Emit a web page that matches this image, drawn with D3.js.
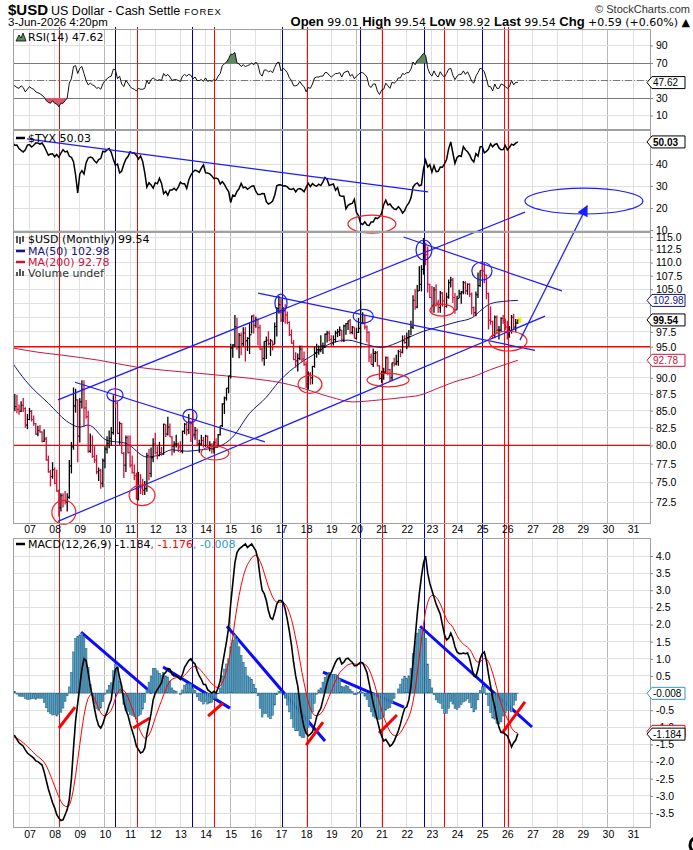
<!DOCTYPE html>
<html>
<head>
<meta charset="utf-8">
<title>$USD monthly</title>
<script src="https://cdn.jsdelivr.net/npm/d3@7"></script>
<style>
  body { margin: 0; background: #fff; }
  svg { display: block; }
  .lbl { font-family: 'Liberation Sans', Arial, sans-serif; font-size: 10.5px; }
  .tag { font-family: 'Liberation Sans', Arial, sans-serif; font-size: 10px; }
  .leg { font-family: 'DejaVu Sans', Verdana, sans-serif; font-size: 11px; }
  .hdr { font-family: 'Liberation Sans Narrow', 'Arial Narrow', 'Liberation Sans', Arial, sans-serif; }
  .val { font-family: 'DejaVu Sans', Verdana, sans-serif; }
</style>
</head>
<body>
<svg id="chart"></svg>
<script>
// one bar per month, the first one is May 2006
var startYear = 2006
var startMonth = 4

var closes = [
  85.3, 85.6, 85.2, 84.9, 85.8, 85.3, 82.9, 83.7,
  84.9, 83.7, 83.1, 81.6, 82.1, 81.9, 80.6, 80.9, 78.0, 76.4, 75.8, 76.7,
  74.9, 73.9, 71.8, 73.3, 72.7, 72.5, 73.1, 77.2, 79.8, 85.7, 86.6, 81.3,
  86.3, 88.2, 85.4, 84.1, 79.2, 80.0, 78.5, 78.0, 76.4, 76.6, 74.9, 77.9,
  79.5, 80.3, 81.0, 81.8, 86.4, 86.1, 81.7, 83.1, 78.9, 77.3, 81.1, 79.0,
  77.3, 76.3, 75.9, 72.9, 74.6, 74.3, 74.0, 74.2, 78.6, 76.2, 78.3, 80.2,
  79.0, 78.6, 79.0, 78.8, 83.0, 81.6, 82.6, 81.2, 79.9, 80.2, 80.2, 79.8,
  79.2, 82.0, 83.0, 82.2, 83.3, 83.1, 81.5, 82.1, 80.2, 80.2, 80.7, 80.0,
  81.3, 79.7, 80.1, 79.5, 80.4, 79.8, 81.5, 82.8, 86.0, 86.9, 88.4, 90.3,
  94.8, 95.3, 98.4, 95.0, 96.9, 95.5, 97.3, 96.0, 96.4, 97.0, 100.2, 98.6,
  99.6, 98.2, 94.6, 93.1, 95.9, 96.1, 95.5, 96.0, 95.4, 98.4, 101.5, 102.2,
  99.5, 101.1, 100.4, 99.1, 97.0, 95.6, 92.9, 92.7, 93.1, 94.6, 93.0, 92.1,
  89.1, 90.6, 90.0, 91.8, 94.0, 94.5, 94.5, 95.1, 95.1, 97.1, 97.3, 96.2,
  95.6, 96.2, 97.3, 97.5, 97.8, 96.1, 98.5, 98.9, 99.4, 97.4, 98.3, 96.4,
  97.4, 98.1, 99.0, 99.0, 98.3, 97.4, 93.3, 92.1, 93.9, 94.0, 91.9, 89.9,
  90.6, 90.9, 93.2, 91.3, 90.0, 92.4, 92.2, 92.6, 94.2, 94.1, 96.0, 95.7,
  96.5, 96.7, 98.3, 103.0, 101.8, 104.7, 105.9, 108.7, 112.1, 111.5, 105.9, 103.5,
  102.1, 104.9, 102.5, 101.7, 104.3, 102.9, 101.9, 103.6, 106.2, 106.7, 103.5, 101.3,
  103.3, 104.2, 104.5, 106.2, 104.7, 105.9, 104.1, 101.7, 100.8, 104.0, 105.7, 108.5,
  108.4, 107.6, 104.2, 99.5, 99.3, 96.9, 100.0, 97.8, 97.8, 99.8, 99.4, 98.3,
  97.0, 97.6, 100.0, 98.3, 99.0, 99.54
]

var highs = [
  86.9, 87.5, 87.4, 85.9, 86.4, 86.9, 85.5, 84.5,
  85.4, 85.1, 84.3, 83.2, 82.8, 82.9, 82.0, 82.3, 81.2, 78.6, 76.7, 77.7,
  77.0, 76.7, 74.1, 73.6, 73.6, 73.9, 73.6, 78.0, 80.5, 88.5, 88.3, 86.7,
  86.9, 89.6, 89.6, 86.6, 85.0, 81.7, 81.4, 79.9, 78.7, 77.0, 76.8, 78.2,
  79.9, 81.3, 82.1, 82.6, 87.3, 88.7, 86.3, 83.4, 83.2, 79.1, 81.4, 81.4,
  81.4, 78.6, 77.4, 76.3, 76.4, 76.1, 75.5, 75.2, 79.0, 79.5, 79.7, 81.0,
  81.8, 79.9, 80.5, 79.8, 83.1, 83.0, 84.1, 83.1, 81.3, 80.6, 81.5, 80.4,
  80.6, 82.1, 83.2, 83.3, 84.5, 83.5, 84.8, 82.6, 82.4, 80.8, 81.5, 81.2,
  81.5, 81.4, 80.6, 80.3, 80.6, 81.0, 81.6, 82.8, 86.1, 87.1, 88.4, 90.3,
  95.5, 95.4, 100.4, 99.9, 97.3, 97.4, 98.3, 98.3, 96.6, 99.0, 100.3, 100.5,
  100.1, 99.8, 98.7, 94.9, 95.9, 96.7, 97.6, 96.3, 96.0, 99.1, 101.8, 103.8,
  103.3, 101.8, 102.3, 101.0, 99.3, 97.9, 96.1, 94.1, 93.9, 95.2, 95.2, 94.2,
  92.6, 91.0, 90.9, 91.9, 95.0, 95.5, 95.2, 96.9, 95.7, 97.2, 97.7, 97.7,
  96.9, 96.9, 97.7, 98.0, 98.4, 97.8, 98.7, 99.0, 99.4, 99.7, 98.5, 98.3,
  98.2, 99.9, 103.0, 100.9, 100.4, 98.6, 97.6, 93.9, 94.7, 94.3, 94.3, 92.0,
  91.1, 91.6, 93.4, 93.4, 91.4, 92.4, 93.2, 93.7, 94.5, 94.6, 96.9, 96.9,
  97.4, 97.8, 99.4, 103.9, 105.0, 105.8, 109.3, 109.5, 114.8, 113.9, 113.1, 106.0,
  105.6, 105.4, 105.9, 103.1, 104.7, 104.5, 103.6, 104.4, 106.8, 107.3, 107.1, 104.3,
  103.8, 104.9, 104.7, 106.5, 106.5, 106.1, 106.1, 104.4, 101.9, 104.6, 108.1, 108.5,
  110.2, 109.9, 107.7, 104.4, 101.9, 99.4, 100.3, 100.3, 98.5, 100.0, 100.4, 99.8,
  99.4, 98.5, 100.4, 100.6, 99.7, 99.6
]

var lows = [
  84.1, 84.9, 84.6, 84.4, 84.8, 84.8, 82.5, 82.3,
  83.6, 83.4, 82.8, 81.5, 81.3, 81.8, 80.4, 80.5, 77.9, 76.3, 74.5, 75.5,
  74.8, 73.8, 70.7, 71.3, 71.8, 72.2, 71.3, 72.9, 76.2, 79.4, 84.7, 77.7,
  80.4, 85.3, 82.6, 83.8, 79.0, 79.0, 78.3, 77.6, 76.1, 75.2, 74.2, 74.4,
  76.9, 78.9, 79.6, 80.0, 81.5, 85.4, 81.6, 80.1, 78.9, 75.6, 76.4, 78.9,
  77.0, 76.2, 75.3, 72.8, 72.7, 73.5, 73.4, 73.4, 73.8, 75.3, 75.7, 77.7,
  78.8, 78.1, 78.5, 78.6, 78.7, 81.2, 81.4, 81.2, 78.6, 79.0, 79.7, 79.1,
  79.0, 78.9, 81.6, 81.4, 81.6, 80.5, 81.1, 80.8, 79.9, 79.0, 80.0, 79.7,
  79.8, 79.7, 79.2, 78.9, 78.9, 79.7, 79.8, 81.4, 82.6, 84.5, 86.5, 87.6,
  89.9, 93.2, 94.9, 94.5, 93.1, 93.6, 95.1, 92.6, 94.3, 93.8, 97.2, 97.2,
  98.2, 95.2, 94.5, 92.6, 91.9, 93.0, 95.2, 93.5, 94.4, 95.4, 96.7, 100.6,
  99.2, 99.2, 98.9, 98.8, 96.8, 95.5, 92.8, 91.6, 91.0, 92.8, 92.5, 91.9,
  88.4, 88.2, 88.9, 89.0, 91.6, 93.2, 93.7, 94.1, 93.8, 94.8, 95.7, 95.9,
  95.0, 95.2, 95.7, 96.6, 96.8, 95.8, 95.8, 97.0, 97.8, 97.1, 97.1, 96.4,
  96.2, 97.3, 94.6, 98.8, 97.9, 95.7, 92.5, 92.1, 91.7, 92.5, 91.8, 89.7,
  89.2, 89.7, 90.6, 90.4, 89.5, 89.5, 91.8, 92.0, 91.9, 93.3, 93.9, 95.5,
  94.6, 95.1, 96.9, 98.0, 101.3, 101.6, 104.7, 104.6, 107.7, 109.5, 104.4, 103.4,
  100.8, 100.8, 101.9, 100.8, 100.8, 101.9, 99.6, 101.7, 103.3, 105.3, 102.5, 100.6,
  101.3, 103.4, 102.4, 104.1, 104.1, 104.0, 103.6, 100.5, 100.2, 100.2, 103.4, 105.4,
  107.2, 106.1, 103.2, 97.9, 98.7, 96.4, 96.4, 97.1, 96.2, 97.5, 98.9, 97.8,
  96.2, 96.5, 97.2, 97.8, 97.5, 98.9
]

var rsiValues = [
  43, 44, 42, 41, 44, 42, 37, 40,
  43, 41, 40, 37, 36, 35, 33, 31, 27, 25, 24, 27,
  24, 23, 20, 24, 24, 27, 30, 47, 52, 66, 67, 58,
  64, 66, 58, 50, 45, 47, 45, 44, 41, 42, 40, 46,
  50, 52, 54, 55, 63, 62, 52, 55, 46, 43, 50, 47,
  43, 41, 40, 38, 41, 40, 40, 41, 50, 46, 51, 53,
  51, 50, 51, 50, 58, 55, 57, 54, 50, 51, 51, 50,
  49, 55, 57, 55, 57, 56, 52, 54, 50, 50, 51, 49,
  53, 49, 50, 49, 51, 50, 55, 58, 67, 69, 71, 75,
  80, 80, 82, 70, 69, 66, 68, 66, 67, 68, 70, 68,
  71, 68, 58, 55, 62, 62, 60, 61, 59, 65, 70, 71,
  61, 64, 62, 59, 53, 50, 44, 44, 45, 49, 45, 43,
  37, 42, 41, 46, 53, 54, 54, 55, 55, 59, 59, 56,
  54, 56, 58, 58, 59, 54, 59, 60, 61, 55, 57, 52,
  55, 57, 59, 59, 57, 54, 44, 42, 46, 46, 38, 34,
  39, 40, 47, 44, 41, 48, 47, 49, 53, 53, 58, 57,
  59, 59, 63, 71, 68, 73, 75, 78, 81, 79, 64, 58,
  55, 61, 56, 54, 60, 56, 54, 58, 63, 64, 56, 51,
  55, 57, 57, 61, 57, 60, 55, 49, 47, 55, 59, 64,
  63, 60, 52, 43, 43, 38, 46, 41, 41, 46, 45, 43,
  41, 43, 50, 45, 48, 47.62
]

var tyxValues = [
  49.5, 48.5, 48.6, 47.0, 46.2, 45.5, 46.5, 48.6,
  48.8, 47.7, 48.5, 49.5, 49.5, 49.0, 49.5, 48.0, 46.0, 44.0, 44.5, 44.6,
  43.3, 44.3, 43.0, 45.0, 46.5, 45.5, 45.8, 43.5, 43.0, 41.0, 35.0, 26.8,
  35.5, 37.0, 35.5, 40.5, 42.7, 43.2, 42.8, 41.5, 40.5, 42.0, 42.5, 45.8,
  45.5, 46.4, 47.0, 45.3, 42.1, 39.5, 40.0, 36.0, 36.8, 39.9, 42.2, 43.4,
  45.5, 45.0, 45.0, 43.9, 42.2, 43.7, 41.2, 36.0, 29.5, 31.5, 30.5, 29.0,
  31.5, 31.0, 33.5, 31.2, 26.5, 27.6, 25.8, 28.2, 28.2, 29.0, 28.0, 29.5,
  31.7, 31.0, 31.0, 28.9, 32.7, 35.0, 36.4, 37.2, 36.9, 36.2, 38.1, 39.6,
  36.0, 35.9, 35.5, 34.6, 33.3, 33.6, 33.2, 30.9, 32.0, 30.7, 28.9, 27.5,
  22.5, 25.9, 25.4, 27.5, 28.8, 31.2, 29.2, 29.5, 28.5, 29.2, 29.9, 30.1,
  27.5, 26.1, 26.1, 26.6, 26.5, 22.9, 21.8, 22.3, 23.2, 25.8, 30.1, 30.6,
  30.5, 30.0, 30.1, 29.6, 28.6, 28.4, 28.9, 27.3, 28.6, 28.8, 28.3, 27.4,
  29.4, 31.2, 29.7, 31.1, 30.3, 29.9, 30.8, 30.2, 31.9, 33.9, 33.0, 30.2,
  30.6, 30.9, 28.1, 29.3, 25.7, 25.3, 25.3, 19.6, 21.2, 21.8, 22.1, 23.9,
  18.0, 16.5, 13.0, 12.5, 13.7, 12.3, 12.0, 13.6, 13.6, 15.5, 15.2, 16.0,
  17.5, 21.5, 23.6, 21.4, 21.8, 20.5, 19.5, 19.3, 20.6, 19.5, 17.7, 18.8,
  21.0, 22.3, 24.5, 29.5, 30.8, 31.4, 30.1, 30.5, 37.8, 41.8, 38.6, 39.7,
  36.3, 39.3, 36.5, 36.7, 38.6, 38.5, 40.1, 42.0, 47.0, 50.0, 45.0, 40.3,
  43.0, 43.8, 43.4, 47.9, 46.5, 45.6, 44.1, 42.0, 40.9, 44.7, 43.6, 47.8,
  47.9, 45.1, 45.7, 46.8, 49.2, 47.8, 48.9, 49.2, 47.3, 46.5, 46.6, 48.4,
  46.4, 47.5, 49.0, 48.6, 49.5, 50.03
]

var macdValues = [
  -1.22, -1.25, -1.35, -1.45, -1.5, -1.55, -1.66, -1.75,
  -1.8, -1.85, -1.9, -1.98, -2.0, -2.05, -2.1, -2.3, -2.55, -2.8, -3.0, -3.2,
  -3.35, -3.55, -3.65, -3.72, -3.7, -3.55, -3.4, -3.1, -2.5, -1.6, -0.8, -0.3,
  0.2, 0.7, 1.0, 0.95, 0.6, 0.2, -0.1, -0.45, -0.75, -0.95, -1.02, -0.9,
  -0.7, -0.55, -0.35, -0.2, 0.3, 0.7, 0.75, 0.45, 0.2, -0.25, -0.5, -0.65,
  -0.9, -1.1, -1.3, -1.55, -1.65, -1.75, -1.72, -1.6, -1.2, -0.9, -0.6, -0.2,
  0.0, 0.1, 0.2, 0.3, 0.55, 0.6, 0.72, 0.7, 0.55, 0.5, 0.5, 0.45,
  0.4, 0.55, 0.75, 0.85, 0.95, 1.0, 0.9, 0.85, 0.65, 0.5, 0.4, 0.25,
  0.25, 0.1, 0.05, 0.0, 0.05, 0.0, 0.15, 0.35, 0.8, 1.15, 1.5, 1.9,
  2.6, 3.2, 3.8, 4.1, 4.2, 4.25, 4.3, 4.35, 4.25, 4.3, 4.35, 4.25,
  4.15, 3.9, 3.4, 3.0, 2.9, 2.7, 2.4, 2.2, 2.15, 2.35, 2.6, 2.7,
  2.7, 2.65, 2.45, 2.15, 1.8, 1.4, 0.9, 0.5, 0.2, -0.3, -0.7, -1.0,
  -1.17, -1.25, -1.2, -1.13, -0.95, -0.7, -0.55, -0.45, -0.2, 0.05, 0.3, 0.5,
  0.6, 0.75, 0.9, 1.0, 1.02, 0.85, 0.9, 1.0, 1.02, 0.95, 0.9, 0.8,
  0.8, 0.85, 0.9, 0.88, 0.75, 0.6, 0.3, 0.0, -0.3, -0.55, -0.8, -1.05,
  -1.25, -1.4, -1.35, -1.45, -1.55, -1.5, -1.4, -1.25, -1.1, -0.9, -0.65, -0.45,
  -0.4, -0.2, 0.2, 0.9, 1.6, 2.3, 2.9, 3.4, 3.8, 4.0, 3.5, 3.2,
  3.0, 2.8, 2.6, 2.45, 2.3, 2.0, 1.7, 1.55, 1.6, 1.75, 1.6, 1.35,
  1.2, 1.15, 1.15, 1.17, 1.15, 1.17, 1.0, 0.75, 0.5, 0.47, 0.7, 1.0,
  1.15, 1.2, 0.95, 0.55, 0.2, -0.15, -0.4, -0.75, -1.0, -1.15, -1.15, -1.2,
  -1.25, -1.4, -1.57, -1.45, -1.37, -1.184
]

var signalValues = [
  -1.28, -1.3, -1.32, -1.36, -1.4, -1.45, -1.5, -1.56,
  -1.62, -1.68, -1.74, -1.8, -1.85, -1.9, -1.95, -2.02, -2.12, -2.25, -2.4, -2.56,
  -2.72, -2.88, -3.03, -3.16, -3.26, -3.3, -3.32, -3.28, -3.1, -2.8, -2.4, -1.95,
  -1.5, -1.05, -0.65, -0.35, -0.15, -0.05, -0.05, -0.15, -0.3, -0.45, -0.58, -0.65,
  -0.66, -0.64, -0.58, -0.5, -0.35, -0.15, 0.0, 0.1, 0.12, 0.08, 0.0, -0.12,
  -0.28, -0.45, -0.62, -0.8, -0.98, -1.13, -1.25, -1.32, -1.3, -1.22, -1.1, -0.92,
  -0.72, -0.55, -0.38, -0.22, -0.05, 0.1, 0.25, 0.35, 0.4, 0.43, 0.45, 0.45,
  0.44, 0.46, 0.52, 0.58, 0.66, 0.73, 0.76, 0.78, 0.76, 0.71, 0.65, 0.57,
  0.5, 0.42, 0.34, 0.27, 0.22, 0.17, 0.17, 0.2, 0.3, 0.45, 0.65, 0.9,
  1.25, 1.65, 2.1, 2.5, 2.85, 3.15, 3.4, 3.6, 3.75, 3.85, 3.95, 4.0,
  4.02, 3.98, 3.85, 3.7, 3.5, 3.3, 3.1, 2.95, 2.8, 2.7, 2.65, 2.65,
  2.65, 2.65, 2.6, 2.5, 2.35, 2.15, 1.9, 1.6, 1.3, 0.95, 0.6, 0.3,
  0.0, -0.25, -0.45, -0.58, -0.65, -0.66, -0.64, -0.6, -0.52, -0.4, -0.25, -0.1,
  0.05, 0.2, 0.35, 0.48, 0.6, 0.66, 0.72, 0.78, 0.83, 0.85, 0.86, 0.85,
  0.84, 0.84, 0.85, 0.86, 0.84, 0.79, 0.7, 0.55, 0.38, 0.18, -0.05, -0.28,
  -0.5, -0.7, -0.85, -1.0, -1.12, -1.2, -1.24, -1.25, -1.22, -1.16, -1.06, -0.94,
  -0.83, -0.7, -0.52, -0.25, 0.1, 0.55, 1.05, 1.55, 2.0, 2.4, 2.65, 2.8,
  2.85, 2.85, 2.8, 2.72, 2.6, 2.45, 2.3, 2.15, 2.05, 2.0, 1.92, 1.8,
  1.68, 1.57, 1.49, 1.43, 1.38, 1.34, 1.28, 1.18, 1.05, 0.94, 0.9, 0.92,
  0.97, 1.01, 1.0, 0.92, 0.77, 0.58, 0.36, 0.13, -0.1, -0.31, -0.48, -0.62,
  -0.75, -0.88, -1.02, -1.1, -1.15, -1.176
]

// moving averages at a few months (index from May 2006)
var ma50Months = [0, 6, 17, 27, 32, 36, 45, 54, 64, 70, 76, 83, 90, 98, 105, 113, 121, 127, 137, 145, 152, 160, 168, 176, 183, 188, 196, 203, 212, 219, 224, 228, 234, 241]
var ma50Values = [92.3, 89.6, 86.1, 83.2, 82.6, 82.9, 80.7, 80.3, 78.4, 78.7, 79.4, 79.2, 79.4, 79.8, 81.2, 84.6, 87.0, 89.4, 92.3, 94.0, 95.6, 96.1, 95.4, 94.9, 95.6, 96.4, 97.6, 98.3, 99.2, 99.9, 101.4, 102.4, 102.8, 102.98]
var ma200Months = [0, 12, 24, 41, 59, 72, 89, 105, 121, 127, 136, 152, 162, 175, 187, 194, 203, 213, 219, 228, 241]
var ma200Values = [94.8, 94.1, 93.6, 92.8, 91.7, 91.2, 90.7, 90.2, 89.6, 89.3, 88.6, 87.0, 86.3, 86.6, 87.0, 87.3, 88.4, 89.6, 90.1, 91.3, 92.78]

var yearTicks = [2007, 2008, 2009, 2010, 2011, 2012, 2013, 2014, 2015, 2016, 2017, 2018, 2019, 2020, 2021, 2022, 2023, 2024, 2025, 2026, 2027, 2028, 2029, 2030, 2031]
var yearLabels = ['07', '08', '09', '10', '11', '12', '13', '14', '15', '16', '17', '18', '19', '20', '21', '22', '23', '24', '25', '26', '27', '28', '29', '30', '31']
var priceGrid = [72.5, 75, 77.5, 80, 82.5, 85, 87.5, 90, 92.5, 95, 97.5, 100, 102.5, 105, 107.5, 110, 112.5, 115]
var priceLabels = [72.5, 75, 77.5, 80, 82.5, 85, 87.5, 90, 95, 97.5, 105, 107.5, 110, 112.5, 115]
var rsiGridTicks = [10, 30, 50, 70, 90]
var rsiLabels = [10, 30, 70, 90]
var tyxGridTicks = [10, 20, 30, 40, 50]
var tyxLabels = [10, 20, 30, 40]
var macdGrid = [-3.5, -3, -2.5, -2, -1.5, -1, -0.5, 0, 0.5, 1, 1.5, 2, 2.5, 3, 3.5, 4]
var macdLabels = [-3.5, -3, -2.5, -2, -1.5, -1, -0.5, 0.5, 1, 1.5, 2, 2.5, 3, 3.5, 4]

// hand drawn marks (dates as fractional years)
var redCycles = [2008.21, 2011.31, 2014.34, 2018.07, 2021.04, 2023.52, 2025.87, 2026.03]
var blueCycles = [2010.40, 2013.50, 2017.04, 2020.18, 2022.69, 2025.03]
var priceLevels = [95, 80]
var priceTrendLines = [
  [[2008.13, 70.1], [2027.50, 100.2]],
  [[2008.13, 86.6], [2026.70, 120.1]],
  [[2008.81, 89.3], [2016.36, 80.5]],
  [[2016.09, 104.3], [2027.10, 94.4]],
  [[2021.87, 115.0], [2028.17, 104.7]]
]
var targetArrow = [[2026.50, 96.1], [2029.17, 121.4]]
var targetZone = [2026.70, 2031.39, 119.7, 125.2]
var priceLowRings = [
  [2007.89, 2008.84, 69.75, 72.7],
  [2010.96, 2011.99, 72.04, 74.7],
  [2013.82, 2014.93, 78.0, 79.9],
  [2017.68, 2018.63, 87.6, 90.4],
  [2020.42, 2022.09, 88.6, 90.7],
  [2022.92, 2023.88, 100.2, 102.3],
  [2025.27, 2026.78, 94.3, 97.6]
]
var priceHighRings = [
  [2010.08, 2010.72, 86.4, 88.3],
  [2013.10, 2013.66, 83.2, 85.2],
  [2016.76, 2017.24, 100.9, 104.1],
  [2019.87, 2020.67, 99.0, 101.4],
  [2022.37, 2023.00, 110.5, 114.4],
  [2024.59, 2025.39, 106.7, 110.1]
]
var tyxTrendLine = [[2006.90, 51.4], [2022.85, 27.3]]
var tyxLowRing = [2019.66, 2021.57, 8.6, 16.8]
var macdBlueLines = [
  [[2009.05, 1.78], [2011.87, 0.0]],
  [[2012.31, 0.76], [2014.97, -0.44]],
  [[2014.85, 1.95], [2018.75, -1.40]],
  [[2018.67, 0.61], [2021.89, -0.41]],
  [[2022.53, 1.95], [2026.98, -0.99]]
]
var macdRedSlashes = [
  [[2008.17, -1.02], [2008.81, -0.41]],
  [[2011.12, -1.02], [2011.79, -0.73]],
  [[2014.10, -0.67], [2014.69, -0.29]],
  [[2018.00, -1.52], [2018.67, -0.85]],
  [[2020.90, -1.17], [2021.61, -0.64]],
  [[2025.79, -1.17], [2026.70, -0.26]]
]

;(function (d3) {
  var w = 693
  var h = 850
  var left = 13
  var right = 650
  var rsiBox = [29, 129]
  var tyxBox = [130, 231]
  var priceBox = [232, 523]
  var macdBox = [538, 827]

  var red = '#ff0000'
  var blue = '#1a1aff'
  var barRed = '#d0103a'
  var navy = '#16167e'
  var crimson = '#cc1440'
  var teal = '#3399cc'

  var svg = d3.select('#chart').attr('width', w).attr('height', h)
  svg.append('rect').attr('width', w).attr('height', h).attr('fill', '#fff')
  var defs = svg.append('defs')

  var x = d3.scaleLinear().domain([2006.344, 2031.672]).range([left, right])
  var yRsi = d3.scaleLinear().domain([30, 70]).range([98, 63])
  var yTyx = d3.scaleLinear().domain([10, 40]).range([230, 164])
  var yPrice = d3.scaleLog().domain([72.5, 115]).range([502, 237])
  var yMacd = d3.scaleLinear().domain([-3.5, 4]).range([813, 556])

  var t = i => startYear + (startMonth + i) / 12

  var months = closes.map((c, i) => ({
    t: t(i),
    c: c,
    hi: highs[i],
    lo: lows[i],
    prev: i ? closes[i - 1] : null,
    rsi: rsiValues[i],
    tyx: tyxValues[i],
    macd: macdValues[i],
    signal: signalValues[i]
  }))

  function panel (name, box, y, ticks) {
    var g = svg.append('g')
    g.append('rect').attr('x', left).attr('y', box[0])
      .attr('width', right - left).attr('height', box[1] - box[0]).attr('fill', '#fff')
    g.selectAll('line.v').data(yearTicks).enter().append('line')
      .attr('x1', d => x(d)).attr('x2', d => x(d))
      .attr('y1', box[0]).attr('y2', box[1])
      .attr('stroke', d => d % 5 === 0 ? '#b8b8b8' : '#e0e0e0')
      .attr('shape-rendering', 'crispEdges')
    g.selectAll('line.h').data(ticks).enter().append('line')
      .attr('x1', left).attr('x2', right)
      .attr('y1', d => y(d)).attr('y2', d => y(d))
      .attr('stroke', '#e0e0e0')
      .attr('shape-rendering', 'crispEdges')
    defs.append('clipPath').attr('id', 'clip-' + name).append('rect')
      .attr('x', left).attr('y', box[0]).attr('width', right - left).attr('height', box[1] - box[0])
    return g
  }

  var rsiGrid = panel('rsi', rsiBox, yRsi, rsiGridTicks)
  panel('tyx', tyxBox, yTyx, tyxGridTicks)
  panel('price', priceBox, yPrice, priceGrid)
  panel('macd', macdBox, yMacd, macdGrid)

  // RSI reference lines
  rsiGrid.selectAll('line.ref').data([30, 70]).enter().append('line')
    .attr('x1', left).attr('x2', right).attr('y1', d => yRsi(d)).attr('y2', d => yRsi(d))
    .attr('stroke', '#7a7a7a').attr('shape-rendering', 'crispEdges')
  rsiGrid.append('line')
    .attr('x1', left).attr('x2', right).attr('y1', yRsi(50)).attr('y2', yRsi(50))
    .attr('stroke', '#7a7a7a').attr('stroke-dasharray', '7,2,1,2').attr('shape-rendering', 'crispEdges')

  // cycle lines through every panel
  var cycles = svg.append('g').attr('shape-rendering', 'crispEdges')
  cycles.selectAll('line.r').data(redCycles).enter().append('line')
    .attr('x1', d => x(d)).attr('x2', d => x(d)).attr('y1', 27).attr('y2', macdBox[1])
    .attr('stroke', red).attr('stroke-width', 1)
  cycles.selectAll('line.b').data(blueCycles).enter().append('line')
    .attr('x1', d => x(d)).attr('x2', d => x(d)).attr('y1', 27).attr('y2', macdBox[1])
    .attr('stroke', '#0000a8').attr('stroke-width', 1)

  // RSI
  var rsiG = svg.append('g').attr('clip-path', 'url(#clip-rsi)')
  rsiG.append('path').datum(months)
    .attr('d', d3.area().x(d => x(d.t)).y0(yRsi(70)).y1(d => yRsi(Math.max(d.rsi, 70))))
    .attr('fill', '#5d8a5d')
  rsiG.append('path').datum(months)
    .attr('d', d3.area().x(d => x(d.t)).y0(yRsi(30)).y1(d => yRsi(Math.min(d.rsi, 30))))
    .attr('fill', '#d9586c')
  rsiG.append('path').datum(months)
    .attr('d', d3.line().x(d => x(d.t)).y(d => yRsi(d.rsi)))
    .attr('fill', 'none').attr('stroke', '#111').attr('stroke-width', 1)

  // $TYX
  var tyxG = svg.append('g').attr('clip-path', 'url(#clip-tyx)')
  tyxG.append('path').datum(months)
    .attr('d', d3.line().x(d => x(d.t)).y(d => yTyx(d.tyx)))
    .attr('fill', 'none').attr('stroke', '#000').attr('stroke-width', 1.5)

  // price panel
  var priceG = svg.append('g').attr('clip-path', 'url(#clip-price)')
  priceG.selectAll('line.lvl').data(priceLevels).enter().append('line')
    .attr('x1', left).attr('x2', right).attr('y1', d => yPrice(d)).attr('y2', d => yPrice(d))
    .attr('stroke', red).attr('stroke-width', 1.3)

  var maLine = d3.line().curve(d3.curveMonotoneX).x(d => x(t(d[0]))).y(d => yPrice(d[1]))
  priceG.append('path').datum(ma200Months.map((m, i) => [m, ma200Values[i]]))
    .attr('d', maLine).attr('fill', 'none').attr('stroke', crimson).attr('stroke-width', 1)
  priceG.append('path').datum(ma50Months.map((m, i) => [m, ma50Values[i]]))
    .attr('d', maLine).attr('fill', 'none').attr('stroke', navy).attr('stroke-width', 1)

  var bars = priceG.selectAll('g.bar').data(months).enter().append('g')
    .attr('stroke', d => d.prev === null || d.c >= d.prev ? '#000' : barRed)
  bars.append('line')
    .attr('x1', d => x(d.t)).attr('x2', d => x(d.t))
    .attr('y1', d => yPrice(d.hi)).attr('y2', d => yPrice(d.lo))
    .attr('stroke-width', 1.3)
  bars.filter(d => d.prev !== null).append('line')
    .attr('x1', d => x(d.t) - 1.3).attr('x2', d => x(d.t))
    .attr('y1', d => yPrice(d.prev)).attr('y2', d => yPrice(d.prev))
  bars.append('line')
    .attr('x1', d => x(d.t)).attr('x2', d => x(d.t) + 1.3)
    .attr('y1', d => yPrice(d.c)).attr('y2', d => yPrice(d.c))

  var last = months[months.length - 1]
  svg.append('rect').attr('x', x(last.t) + 0.6).attr('y', yPrice(last.c) - 3)
    .attr('width', 3).attr('height', 6).attr('fill', '#ffee00')

  // hand drawn trend lines and rings
  var notes = svg.append('g').attr('fill', 'none')
  notes.selectAll('line.tl').data(priceTrendLines).enter().append('line')
    .attr('x1', d => x(d[0][0])).attr('y1', d => yPrice(d[0][1]))
    .attr('x2', d => x(d[1][0])).attr('y2', d => yPrice(d[1][1]))
    .attr('stroke', blue).attr('stroke-width', 1.2)

  function ring (g, r, y, color) {
    g.append('ellipse')
      .attr('cx', (x(r[0]) + x(r[1])) / 2).attr('cy', (y(r[2]) + y(r[3])) / 2)
      .attr('rx', Math.abs(x(r[1]) - x(r[0])) / 2).attr('ry', Math.abs(y(r[3]) - y(r[2])) / 2)
      .attr('stroke', color).attr('stroke-width', 1.2)
  }
  priceLowRings.forEach(r => ring(notes, r, yPrice, '#ee2222'))
  priceHighRings.forEach(r => ring(notes, r, yPrice, blue))
  ring(notes, targetZone, yPrice, blue)
  ring(notes, tyxLowRing, yTyx, '#ee2222')

  defs.append('marker').attr('id', 'arrow').attr('viewBox', '0 0 10 10')
    .attr('refX', 9).attr('refY', 5).attr('markerWidth', 13).attr('markerHeight', 11)
    .attr('markerUnits', 'userSpaceOnUse').attr('orient', 'auto')
    .append('path').attr('d', 'M0,0L10,5L0,10Z').attr('fill', blue)
  notes.append('line')
    .attr('x1', x(targetArrow[0][0])).attr('y1', yPrice(targetArrow[0][1]))
    .attr('x2', x(targetArrow[1][0])).attr('y2', yPrice(targetArrow[1][1]))
    .attr('stroke', blue).attr('stroke-width', 1.2).attr('marker-end', 'url(#arrow)')

  notes.append('line')
    .attr('x1', x(tyxTrendLine[0][0])).attr('y1', yTyx(tyxTrendLine[0][1]))
    .attr('x2', x(tyxTrendLine[1][0])).attr('y2', yTyx(tyxTrendLine[1][1]))
    .attr('stroke', blue).attr('stroke-width', 1.2)

  // MACD
  var macdG = svg.append('g').attr('clip-path', 'url(#clip-macd)')
  macdG.selectAll('rect.hist').data(months).enter().append('rect')
    .attr('x', d => x(d.t) - 0.9).attr('width', 1.8)
    .attr('y', d => Math.min(yMacd(0), yMacd(d.macd - d.signal)))
    .attr('height', d => Math.abs(yMacd(d.macd - d.signal) - yMacd(0)))
    .attr('fill', '#5aa2c8').attr('stroke', '#1f5c7a').attr('stroke-width', 0.5)
  macdG.append('path').datum(months)
    .attr('d', d3.line().x(d => x(d.t)).y(d => yMacd(d.signal)))
    .attr('fill', 'none').attr('stroke', red).attr('stroke-width', 1)
  macdG.append('path').datum(months)
    .attr('d', d3.line().x(d => x(d.t)).y(d => yMacd(d.macd)))
    .attr('fill', 'none').attr('stroke', '#000').attr('stroke-width', 1.6)

  notes.selectAll('line.mb').data(macdBlueLines).enter().append('line')
    .attr('x1', d => x(d[0][0])).attr('y1', d => yMacd(d[0][1]))
    .attr('x2', d => x(d[1][0])).attr('y2', d => yMacd(d[1][1]))
    .attr('stroke', '#0a0aff').attr('stroke-width', 3)
  notes.selectAll('line.mr').data(macdRedSlashes).enter().append('line')
    .attr('x1', d => x(d[0][0])).attr('y1', d => yMacd(d[0][1]))
    .attr('x2', d => x(d[1][0])).attr('y2', d => yMacd(d[1][1]))
    .attr('stroke', red).attr('stroke-width', 3)

  // panel borders
  ;[rsiBox, tyxBox, priceBox, macdBox].forEach(b => {
    svg.append('rect').attr('x', left).attr('y', b[0])
      .attr('width', right - left).attr('height', b[1] - b[0])
      .attr('fill', 'none').attr('stroke', '#a0a0a0').attr('shape-rendering', 'crispEdges')
  })

  // axes
  function rightAxis (y, ticks, fmt) {
    var g = svg.append('g').attr('class', 'lbl').attr('transform', `translate(${right},0)`)
      .call(d3.axisRight(y).tickValues(ticks).tickFormat(fmt).tickSize(3).tickPadding(3))
    g.select('.domain').remove()
    g.selectAll('line').attr('stroke', '#888')
    g.selectAll('text').attr('font-family', null).attr('font-size', null).attr('fill', '#000')
    return g
  }
  rightAxis(yRsi, rsiLabels, d => d)
  rightAxis(yTyx, tyxLabels, d => d)
  rightAxis(yPrice, priceLabels, d => d.toFixed(1))
  rightAxis(yMacd, macdLabels, d => d.toFixed(1))

  function yearAxis (yPos, pad) {
    var g = svg.append('g').attr('class', 'lbl').attr('transform', `translate(0,${yPos})`)
      .call(d3.axisBottom(x).tickValues(yearTicks).tickFormat((d, i) => yearLabels[i]).tickSize(0).tickPadding(pad))
    g.select('.domain').remove()
    g.selectAll('text').attr('font-family', null).attr('font-size', null).attr('fill', '#000')
  }
  yearAxis(priceBox[1], 3)
  yearAxis(macdBox[1], 4)

  // value tags on the right edge
  function tag (yv, label, color, bold, dy) {
    var yy = yv + (dy || 0)
    var g = svg.append('g')
    g.append('path')
      .attr('d', `M${right - 3},${yy}L${right + 2},${yy - 6}L${right + 35},${yy - 6}L${right + 35},${yy + 6}L${right + 2},${yy + 6}Z`)
      .attr('fill', '#fff').attr('stroke', color).attr('stroke-width', 1)
    g.append('text').attr('class', 'tag').attr('x', right + 3).attr('y', yy + 3.6)
      .attr('fill', color === teal ? '#000' : color).attr('font-weight', bold ? 'bold' : null)
      .text(label)
  }
  tag(yRsi(47.62), '47.62', '#000')
  tag(yTyx(50.03), '50.03', '#000', true)
  tag(yPrice(102.98), '102.98', navy)
  tag(yPrice(99.54), '99.54', '#000', true)
  tag(yPrice(92.78), '92.78', crimson)
  tag(yMacd(-0.008), '-0.008', teal)
  tag(yMacd(-1.176), '', red, false, -2)
  tag(yMacd(-1.184), '-1.184', '#000', false, 0.5)

  // legends
  var leg = svg.append('g').attr('class', 'leg')
  leg.append('path').attr('d', 'M16,41L19,35L21,38L23,33L26,41Z').attr('fill', '#5d8a5d').attr('stroke', '#000').attr('stroke-width', 0.8)
  leg.append('text').attr('x', 28).attr('y', 41).text('RSI(14) 47.62')

  leg.append('line').attr('x1', 16).attr('x2', 25).attr('y1', 138).attr('y2', 138).attr('stroke', '#000').attr('stroke-width', 2.5)
  leg.append('text').attr('x', 28).attr('y', 142).text('$TYX 50.03')

  ;[[17, 236, 243], [20, 237, 244], [23, 236, 242]].forEach(b => {
    leg.append('line').attr('x1', b[0]).attr('x2', b[0]).attr('y1', b[1]).attr('y2', b[2]).attr('stroke', '#000').attr('stroke-width', 1.3)
  })
  leg.append('text').attr('x', 28).attr('y', 243).text('$USD (Monthly) 99.54')
  leg.append('line').attr('x1', 16).attr('x2', 25).attr('y1', 251).attr('y2', 251).attr('stroke', navy).attr('stroke-width', 2.5)
  leg.append('text').attr('x', 28).attr('y', 255).attr('fill', navy).text('MA(50) 102.98')
  leg.append('line').attr('x1', 16).attr('x2', 25).attr('y1', 262).attr('y2', 262).attr('stroke', crimson).attr('stroke-width', 2.5)
  leg.append('text').attr('x', 28).attr('y', 266).attr('fill', crimson).text('MA(200) 92.78')
  ;[[17, 272], [20, 269], [23, 271]].forEach(b => {
    leg.append('rect').attr('x', b[0] - 1).attr('y', b[1]).attr('width', 2).attr('height', 276 - b[1]).attr('fill', '#555')
  })
  leg.append('text').attr('x', 28).attr('y', 277).attr('fill', '#333').text('Volume undef')

  leg.append('line').attr('x1', 16).attr('x2', 25).attr('y1', 544).attr('y2', 544).attr('stroke', '#000').attr('stroke-width', 2.5)
  var mt = leg.append('text').attr('x', 28).attr('y', 548)
  mt.append('tspan').text('MACD(12,26,9) -1.184')
  mt.append('tspan').attr('fill', red).text(', -1.176')
  mt.append('tspan').attr('fill', teal).text(', -0.008')

  // header
  var hdr = svg.append('g').attr('class', 'hdr')
  var t1 = hdr.append('text').attr('x', 8).attr('y', 15)
  t1.append('tspan').attr('font-size', 15).attr('font-weight', 'bold').text('$USD')
  t1.append('tspan').attr('font-size', 12.5).attr('dx', 3).text('US Dollar - Cash Settle')
  t1.append('tspan').attr('font-size', 9.5).attr('dx', 4).attr('letter-spacing', 1).text('FOREX')
  hdr.append('text').attr('x', 690).attr('y', 13).attr('text-anchor', 'end')
    .attr('font-size', 11).attr('fill', '#333').text('\u00a9 StockCharts.com')
  hdr.append('text').attr('x', 8).attr('y', 26).attr('font-size', 11.5).text('3-Jun-2026 4:20pm')
  var quote = hdr.append('text').attr('x', 690).attr('y', 26).attr('text-anchor', 'end')
  ;[['Open', ' 99.01 '], ['High', ' 99.54 '], ['Low', ' 98.92 '], ['Last', ' 99.54 '], ['Chg', ' +0.59 (+0.60%) \u25b2']].forEach(p => {
    quote.append('tspan').attr('font-family', "'Liberation Sans', Arial, sans-serif").attr('font-size', 13).attr('font-weight', 'bold').text(p[0])
    quote.append('tspan').attr('class', 'val').attr('font-size', 11).text(p[1])
  })

  // cut-off logo in the lower right corner
  svg.append('circle').attr('cx', 698).attr('cy', 845).attr('r', 8)
    .attr('fill', 'none').attr('stroke', '#000').attr('stroke-width', 3)
})(window.d3)
</script>
</body>
</html>
